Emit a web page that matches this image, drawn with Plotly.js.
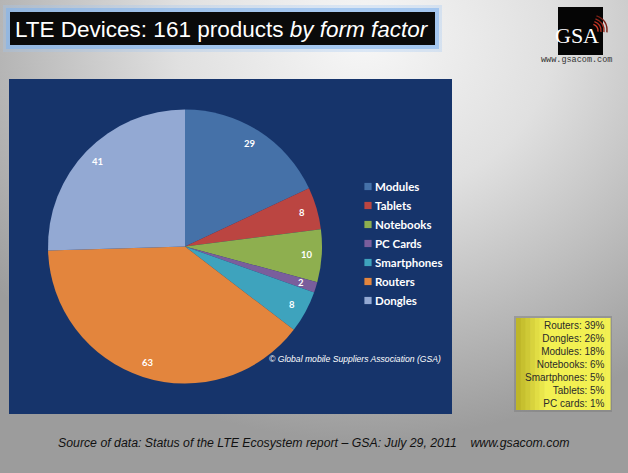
<!DOCTYPE html>
<html>
<head>
<meta charset="utf-8">
<script src="https://cdn.plot.ly/plotly-3.0.1.min.js"></script>
<style>
html, body { margin: 0; padding: 0; }
#chart {
  width: 628px; height: 473px;
  background: radial-gradient(ellipse 75% 85% at 58% 8%, #f7f7f7 0%, #e0e0e0 40%, #b8b8b8 75%, #9c9c9c 100%);
}
#chart .legend .legendpoints path {
  transform-box: fill-box; transform-origin: center;
  transform: translate(33px, 0) scale(0.6);
}
</style>
</head>
<body>
<div id="chart"></div>
<script>
// ---- data ----
const categories = ["Modules", "Tablets", "Notebooks", "PC Cards", "Smartphones", "Routers", "Dongles"];
const productCounts = [29, 8, 10, 2, 8, 63, 41];
const sliceColors = ["#4571a8", "#bb4541", "#8eaf4f", "#7a5e9c", "#3ea3bd", "#e3853d", "#93a9d3"];
const shareLabels = ["Routers", "Dongles", "Modules", "Notebooks", "Smartphones", "Tablets", "PC cards"];
const sharePercents = [39, 26, 18, 6, 5, 5, 1];

const W = 628, H = 473;
const px = x => x / W;
const py = y => 1 - y / H;

// pie geometry (pixels)
const cx = 185, cy = 246.5, R = 137;

const trace = {
  type: "pie",
  labels: categories,
  values: productCounts,
  sort: false,
  direction: "clockwise",
  rotation: 0,
  marker: { colors: sliceColors, line: { width: 0 } },
  textinfo: "none",
  hoverinfo: "label+value",
  domain: { x: [px(cx - R), px(cx + R)], y: [py(cy + R), py(cy - R)] },
  showlegend: true
};

const shapes = [];
// blue chart panel
shapes.push({ type: "rect", xref: "paper", yref: "paper", layer: "below",
  x0: px(9), x1: px(452), y0: py(414), y1: py(79),
  fillcolor: "#16346b", line: { width: 0 } });
// title glow + black box
shapes.push({ type: "rect", xref: "paper", yref: "paper", layer: "below",
  x0: px(3), x1: px(442), y0: py(52), y1: py(5),
  fillcolor: "rgba(160,200,245,0.3)", line: { width: 0 } });
shapes.push({ type: "rect", xref: "paper", yref: "paper", layer: "below",
  x0: px(6), x1: px(439), y0: py(49), y1: py(8),
  fillcolor: "rgba(130,180,238,0.6)", line: { width: 0 } });
shapes.push({ type: "rect", xref: "paper", yref: "paper", layer: "below",
  x0: px(10), x1: px(435), y0: py(45), y1: py(12),
  fillcolor: "#0a0a0a", line: { width: 0 } });
// GSA logo square
shapes.push({ type: "rect", xref: "paper", yref: "paper", layer: "below",
  x0: px(558), x1: px(603), y0: py(55), y1: py(7),
  fillcolor: "#050505", line: { width: 0 } });
// GSA radio arcs (quadratic curves)
const arcC = [591, 31];
[7, 10, 13, 16].forEach((r, i) => {
  const a0 = -70 * Math.PI / 180, a1 = 5 * Math.PI / 180;
  const s = [arcC[0] + r * Math.sin(a0 + Math.PI / 2), arcC[1] - r * Math.cos(a0 + Math.PI / 2)];
  const e = [arcC[0] + r * Math.sin(a1 + Math.PI / 2), arcC[1] - r * Math.cos(a1 + Math.PI / 2)];
  const am = (a0 + a1) / 2 + Math.PI / 2;
  const k = r / Math.cos((a1 - a0) / 2);
  const c = [arcC[0] + k * Math.sin(am), arcC[1] - k * Math.cos(am)];
  shapes.push({ type: "path", xref: "paper", yref: "paper", layer: "above",
    path: `M${px(s[0])},${py(s[1])} Q${px(c[0])},${py(c[1])} ${px(e[0])},${py(e[1])}`,
    line: { color: ["#d23a28", "#b83022", "#9a281c", "#7a2016"][i], width: 1.4 } });
});
// yellow summary box with horizontal gradient strips
const yb = { x0: 516, x1: 610, y0: 318, y1: 410 };
shapes.push({ type: "rect", xref: "paper", yref: "paper", layer: "below",
  x0: px(yb.x0 - 2), x1: px(yb.x1 + 2), y0: py(yb.y1 + 2), y1: py(yb.y0 - 2),
  fillcolor: "rgba(120,120,120,0.45)", line: { width: 0 } });
const nStrips = 20;
for (let i = 0; i < nStrips; i++) {
  const t = Math.min(1, i / (nStrips * 0.3));
  const r = Math.round(190 + (242 - 190) * t);
  const g = Math.round(182 + (240 - 182) * t);
  const b = Math.round(40 + (82 - 40) * t);
  const w = (yb.x1 - yb.x0) / nStrips;
  shapes.push({ type: "rect", xref: "paper", yref: "paper", layer: "below",
    x0: px(yb.x0 + i * w), x1: px(yb.x0 + (i + 1) * w + 0.6), y0: py(yb.y1), y1: py(yb.y0),
    fillcolor: `rgb(${r},${g},${b})`, line: { width: 0 } });
}

const annotations = [];
// title
annotations.push({ xref: "paper", yref: "paper", x: px(13), y: py(29), xanchor: "left", yanchor: "middle",
  text: "LTE Devices: 161 products <i>by form factor</i>", showarrow: false,
  font: { family: "Liberation Sans, Arial, sans-serif", size: 22.5, color: "#ffffff" } });
// GSA logo text
annotations.push({ xref: "paper", yref: "paper", x: px(577), y: py(36), xanchor: "center", yanchor: "middle",
  text: "GSA", showarrow: false,
  font: { family: "Liberation Serif, Times New Roman, serif", size: 22, color: "#ffffff" } });
annotations.push({ xref: "paper", yref: "paper", x: px(576), y: py(60), xanchor: "center", yanchor: "middle",
  text: "www.gsacom.com", showarrow: false,
  font: { family: "Liberation Mono, monospace", size: 8.5, color: "#333333" } });
// slice value labels, placed from the data
const total = productCounts.reduce((a, b) => a + b, 0);
let cum = 0;
productCounts.forEach(v => {
  const a = (cum + v / 2) / total * 2 * Math.PI;
  cum += v;
  const rr = R * 0.89;
  annotations.push({ xref: "paper", yref: "paper",
    x: px(cx + rr * Math.sin(a)), y: py(cy - rr * Math.cos(a)),
    xanchor: "center", yanchor: "middle", showarrow: false, text: String(v),
    font: { family: "Lato, sans-serif", size: 9.5, color: "#ffffff", weight: "bold" } });
});
// copyright
annotations.push({ xref: "paper", yref: "paper", x: px(267), y: py(359), xanchor: "left", yanchor: "middle",
  text: "<i>© Global mobile Suppliers Association (GSA)</i>", showarrow: false,
  font: { family: "Liberation Sans, Arial, sans-serif", size: 8.6, color: "#ffffff" } });
// yellow box text
annotations.push({ xref: "paper", yref: "paper", x: px(607), y: py(364.5), xanchor: "right", yanchor: "middle",
  align: "right", showarrow: false,
  text: shareLabels.map((l, i) => `${l}: ${sharePercents[i]}%`).join("<br>"),
  font: { family: "Liberation Sans, Arial, sans-serif", size: 10, color: "#2a2a2a" } });
// source line
annotations.push({ xref: "paper", yref: "paper", x: px(313), y: py(443), xanchor: "center", yanchor: "middle",
  text: "<i>Source of data: Status of the LTE Ecosystem report – GSA: July 29, 2011&nbsp;&nbsp;&nbsp;&nbsp;www.gsacom.com</i>",
  showarrow: false,
  font: { family: "Liberation Sans, Arial, sans-serif", size: 12.3, color: "#111111" } });

const layout = {
  width: W, height: H,
  margin: { l: 0, r: 0, t: 0, b: 0 },
  paper_bgcolor: "rgba(0,0,0,0)",
  plot_bgcolor: "rgba(0,0,0,0)",
  showlegend: true,
  legend: {
    x: px(335), y: py(172), xanchor: "left", yanchor: "top",
    bgcolor: "rgba(0,0,0,0)", borderwidth: 0,
    font: { family: "Lato, sans-serif", size: 11.5, color: "#ffffff", weight: "bold" },
    traceorder: "normal"
  },
  shapes: shapes,
  annotations: annotations
};

Plotly.newPlot("chart", [trace], layout, { displayModeBar: false, staticPlot: true });
</script>
</body>
</html>
